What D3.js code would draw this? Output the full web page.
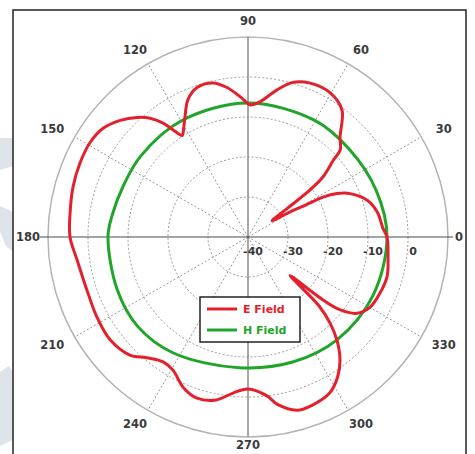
<!DOCTYPE html>
<html>
<head>
<meta charset="utf-8">
<script src="https://cdn.jsdelivr.net/npm/d3@7"></script>
<style>
  html, body { margin: 0; padding: 0; background: #fff; }
  svg { display: block; }
</style>
</head>
<body>
<svg id="chart" width="475" height="454"></svg>
<script>
// Angle ring labels (degrees, counter-clockwise from east)
const angleTicks = [0, 30, 60, 90, 120, 150, 180, 210, 240, 270, 300, 330];
// Radial ticks (dB)
const radialTicks = [-40, -30, -20, -10, 0];

// E-plane pattern: angle (deg) and gain (dB)
const eAngles = [0, 4, 10.5, 17, 23, 26, 28, 29, 31, 34, 36, 37, 38.7, 42, 43.4, 47.4, 53.5, 60.3, 68, 73.8,
  78.8, 85, 89, 90.4, 93, 98, 102.8, 108.8, 113.6, 117.7, 122, 123, 125, 126.7, 129.5, 132.8, 137.6, 143, 149, 156,
  164, 172, 180, 187.7, 198, 208, 216.7, 225, 230, 235.8, 240.6, 246.6, 252.4, 259, 264.5, 270, 276.8, 280, 285.8, 291,
  297.7, 302.7, 306.8, 310.8, 313.6, 315.8, 317.5, 319, 320, 321.6, 325, 330, 337, 344, 352];
const eValues = [-5.25, -6.25, -7.0, -8.75, -12.25, -15.25, -18.75, -23.25, -28.0, -32.75, -28.25, -21.5, -16.0, -11.25, -8.25, -6.0, -0.5, 1.5, 1.5, 0.25,
  -2.5, -6.1, -7.0, -6.5, -5.0, -2.25, -0.5, -0.5, -2.5, -6.1, -9.35, -9.75, -7.25, -4.5, -1.5, 0.75, 3.25, 5.25, 6.0, 5.9,
  5.5, 4.9, 4.5, 3.1, 2.4, 2.75, 3.0, 1.75, -0.6, -2.25, -1.8, 0.9, 2.25, 1.5, -0.8, -2.0, 0.0, 2.5, 5.0, 5.0,
  4.0, 1.5, -1.6, -6.0, -10.25, -15.0, -25.75, -21.25, -15.5, -10.75, -6.75, -4.8, -4.15, -3.85, -4.65];

// H-plane pattern: angle (deg) and gain (dB)
const hAngles = [0, 20, 41, 60, 90, 120, 143, 158, 171, 180, 202, 219, 237, 266, 290, 311, 335];
const hValues = [-5.25, -5.9, -6.5, -6.4, -6.5, -6.5, -6.4, -6.3, -5.6, -5.0, -4.75, -4.5, -5.5, -7.25, -6.8, -6.0, -5.5];

const seriesNames = ["E Field", "H Field"];
const seriesColors = ["#e3202b", "#20a52a"];

const svg = d3.select("#chart");
const cx = 248, cy = 237, outerR = 200;

// radial scale: -40 dB at centre, 4 px per dB
const r = d3.scaleLinear().domain([-40, 10]).range([0, outerR]);
const toRad = d => d * Math.PI / 180;

// faint backdrop shapes to the left of the frame
const backdrop = [
  [[0, 138], [13, 138], [13, 166], [0, 170]],
  [[0, 206], [13, 212], [13, 252], [6, 246], [0, 232]],
  [[0, 372], [9, 366], [13, 372], [13, 440], [0, 446]]
];
svg.selectAll("polygon.bg").data(backdrop).join("polygon")
  .attr("class", "bg")
  .attr("points", d => d.map(p => p.join(",")).join(" "))
  .attr("fill", "#dfe4ea");

// frame clip
svg.append("defs").append("clipPath").attr("id", "frameClip")
  .append("rect").attr("x", 13).attr("y", 10).attr("width", 453).attr("height", 450);

const root = svg.append("g").attr("clip-path", "url(#frameClip)");
const g = root.append("g").attr("transform", `translate(${cx},${cy})`);

// dotted rings
g.selectAll("circle.ring").data(radialTicks.slice(1)).join("circle")
  .attr("class", "ring")
  .attr("r", d => r(d))
  .attr("fill", "none").attr("stroke", "#9a9a9a").attr("stroke-width", 1)
  .attr("stroke-dasharray", "2,2");

// dotted spokes
g.selectAll("line.spoke").data(angleTicks.filter(a => a % 90 !== 0)).join("line")
  .attr("class", "spoke")
  .attr("x1", 0).attr("y1", 0)
  .attr("x2", a => outerR * Math.cos(toRad(a)))
  .attr("y2", a => -outerR * Math.sin(toRad(a)))
  .attr("stroke", "#9a9a9a").attr("stroke-width", 1).attr("stroke-dasharray", "2,2");

// outer ring
g.append("circle").attr("r", outerR).attr("fill", "none")
  .attr("stroke", "#b4b4b4").attr("stroke-width", 1.5);

// main axes
g.append("line").attr("x1", 0).attr("x2", 0).attr("y1", -outerR).attr("y2", outerR)
  .attr("stroke", "#8a8a8a").attr("stroke-width", 1.5);
g.append("line").attr("x1", -208).attr("x2", 205).attr("y1", 0).attr("y2", 0)
  .attr("stroke", "#4a4a4a").attr("stroke-width", 1);

// angle labels (kept inside the frame on the left, right and bottom)
const labelPos = a => {
  let x = 226 * Math.cos(toRad(a)), y = -216 * Math.sin(toRad(a));
  if (a === 0) x = 211;
  if (a === 180) x = -220;
  if (a === 270) y = 208;
  return [x, y];
};
g.selectAll("text.ang").data(angleTicks).join("text")
  .attr("class", "ang")
  .attr("x", a => labelPos(a)[0])
  .attr("y", a => labelPos(a)[1])
  .attr("text-anchor", "middle").attr("dominant-baseline", "central")
  .attr("font-family", "DejaVu Sans, sans-serif").attr("font-weight", "bold")
  .attr("font-size", 11.5).attr("fill", "#3a3a3a")
  .text(a => a);

// radial labels
g.selectAll("text.rad").data(radialTicks).join("text")
  .attr("class", "rad")
  .attr("x", d => r(d) + 5)
  .attr("y", 14)
  .attr("text-anchor", "middle").attr("dominant-baseline", "central")
  .attr("font-family", "DejaVu Sans, sans-serif").attr("font-weight", "bold")
  .attr("font-size", 11).attr("fill", "#3a3a3a")
  .text(d => d);

// pattern curves
const radial = d3.lineRadial()
  .angle(d => toRad(90 - d[0]))
  .radius(d => r(d[1]))
  .curve(d3.curveCatmullRomClosed.alpha(0.5));

const hData = hAngles.map((a, i) => [a, hValues[i]]);
const eData = eAngles.map((a, i) => [a, eValues[i]]);

g.append("path").datum(hData).attr("d", radial)
  .attr("fill", "none").attr("stroke", seriesColors[1]).attr("stroke-width", 3);
g.append("path").datum(eData).attr("d", radial)
  .attr("fill", "none").attr("stroke", seriesColors[0]).attr("stroke-width", 3)
  .attr("stroke-linejoin", "round");

// legend
const lg = svg.append("g").attr("transform", "translate(200,297)");
lg.append("rect").attr("width", 100).attr("height", 45)
  .attr("fill", "#fff").attr("stroke", "#222").attr("stroke-width", 1.5);
seriesNames.forEach((name, i) => {
  const y = 12 + i * 21;
  lg.append("line").attr("x1", 7).attr("x2", 37).attr("y1", y).attr("y2", y)
    .attr("stroke", seriesColors[i]).attr("stroke-width", 3);
  lg.append("text").attr("x", 43).attr("y", y).attr("dominant-baseline", "central")
    .attr("font-family", "DejaVu Sans, sans-serif").attr("font-weight", "bold")
    .attr("font-size", 11).attr("fill", seriesColors[i]).text(name);
});

// frame border
svg.append("rect").attr("x", 13).attr("y", 10).attr("width", 453).attr("height", 450)
  .attr("fill", "none").attr("stroke", "#222").attr("stroke-width", 1.5);
</script>
</body>
</html>
